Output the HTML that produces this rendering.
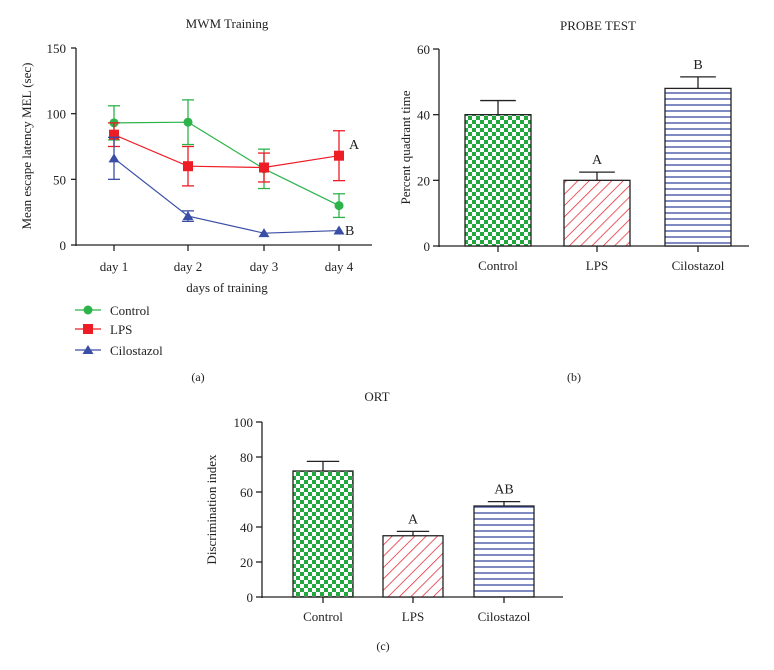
<!DOCTYPE html>
<html><head><meta charset="utf-8"><style>
body{margin:0;background:#fff;}
svg{display:block;font-family:"Liberation Serif",serif;}
</style></head><body>
<svg id="s" width="774" height="670" viewBox="0 0 774 670">
<defs>
<pattern id="chk" width="8" height="8" patternUnits="userSpaceOnUse"><rect width="8" height="8" fill="#fff"/><rect width="4" height="4" fill="#22a83f"/><rect x="4" y="4" width="4" height="4" fill="#22a83f"/></pattern>
<pattern id="diag" width="8" height="8" patternUnits="userSpaceOnUse" patternTransform="rotate(-45)"><rect width="8" height="8" fill="#fff"/><line x1="0" y1="0" x2="8" y2="0" stroke="#e8303c" stroke-width="1.6"/></pattern>
<pattern id="hor" width="6" height="6" patternUnits="userSpaceOnUse"><rect width="6" height="6" fill="#fff"/><line x1="0" y1="3" x2="6" y2="3" stroke="#4858a8" stroke-width="1.4"/></pattern>
</defs>
</svg>
<script>
// Chart a data
const days=["day 1","day 2","day 3","day 4"];
const ctrlMean=[93,93.5,58,30];
const ctrlErr=[13,17,15,9];
const lpsMean=[84,60,59,68];
const lpsErr=[9,15,11,19];
const ciloMean=[66,22,9,11];
const ciloErr=[16,4,0,0];
const aTicks=[0,50,100,150];
// Chart b data
const groups=["Control","LPS","Cilostazol"];
const probeMean=[40,20,48];
const probeErr=[4.3,2.5,3.5];
const probeLetters=["","A","B"];
const bTicks=[0,20,40,60];
// Chart c data
const ortMean=[72,35,52];
const ortErr=[5.5,2.5,2.5];
const ortLetters=["","A","AB"];
const cTicks=[0,20,40,60,80,100];

const S=document.getElementById('s');
const NS='http://www.w3.org/2000/svg';
function mk(tag,at,name,txt){const e=document.createElementNS(NS,tag);for(const k in at)e.setAttribute(k,at[k]);


if(txt!==undefined)e.textContent=txt;S.appendChild(e);return e;}
function line(x1,y1,x2,y2,name,col,w){return mk('line',{x1,y1,x2,y2,stroke:col||'#222','stroke-width':w||1.3},name);}
function text(x,y,t,name,sz,anchor,extra){const a=Object.assign({x,y,'font-size':sz||13,'text-anchor':anchor||'middle',fill:'#222'},extra||{});return mk('text',a,name,t);}

// ---- Chart a ----
const aX0=76,aY0=245,aY1=48,aMax=150;
const ay=v=>aY0-(aY0-aY1)*v/aMax;
const ax=i=>[114,188,264,339][i];
text(227,28,"MWM Training","a-title",13);
line(aX0,aY1,aX0,aY0+1,"a-y-axis");line(aX0,aY0,372,aY0,"a-x-axis");
aTicks.forEach(t=>{line(aX0-5,ay(t),aX0,ay(t),"a-y-tick");text(aX0-10,ay(t)+5,t,"a-y-tick-label",13,"end");});
days.forEach((d,i)=>{line(ax(i),aY0,ax(i),aY0+6,"a-x-tick");text(ax(i),271,d,"a-x-tick-label",13);});
text(227,292,"days of training","a-x-axis-title",13);
text(0,0,"Mean escape latency MEL (sec)","a-y-axis-title",13,"middle",{transform:"translate(31,146) rotate(-90)"});
function series(mean,err,col,shape,name){
  mk('polyline',{points:mean.map((v,i)=>ax(i)+','+ay(v)).join(' '),fill:'none',stroke:col,'stroke-width':1.2},name+'-line');
  mean.forEach((v,i)=>{if(err[i]>0){line(ax(i),ay(v-err[i]),ax(i),ay(v+err[i]),name+'-error',col,1.3);
    line(ax(i)-6,ay(v+err[i]),ax(i)+6,ay(v+err[i]),name+'-error-cap',col,1.3);line(ax(i)-6,ay(v-err[i]),ax(i)+6,ay(v-err[i]),name+'-error-cap',col,1.3);}});
  mean.forEach((v,i)=>marker(ax(i),ay(v),col,shape,name+'-point'));
}
function marker(x,y,col,shape,name){
  if(shape==='c')mk('circle',{cx:x,cy:y,r:4.5,fill:col},name);
  else if(shape==='s')mk('rect',{x:x-5,y:y-5,width:10,height:10,fill:col},name);
  else mk('polygon',{points:`${x},${y-5} ${x-5.5},${y+4} ${x+5.5},${y+4}`,fill:col},name);
}
series(ctrlMean,ctrlErr,'#2db34a','c','control');
series(lpsMean,lpsErr,'#ee1c25','s','lps');
series(ciloMean,ciloErr,'#3a4ea5','t','cilostazol');
text(349,149,"A","a-letter-a",14,"start");
text(345,235,"B","a-letter-b",14,"start");
[["Control",'#2db34a','c',310],["LPS",'#ee1c25','s',329],["Cilostazol",'#3a4ea5','t',350]].forEach(l=>{
  line(75,l[3],101,l[3],"legend-line",l[1],1.2);marker(88,l[3],l[1],l[2],"legend-marker");text(110,l[3]+5,l[0],"legend-label",13,"start");});
text(198,381,"(a)","a-caption",12);

// ---- bar chart helper ----
function bars(o){
  const y=v=>o.y0-(o.y0-o.y1)*v/o.max;
  text(o.tx,o.ty,o.title,o.id+"-title",13);
  line(o.x0,o.y1,o.x0,o.y0+1,o.id+"-y-axis");line(o.x0,o.y0,o.xe,o.y0,o.id+"-x-axis");
  o.ticks.forEach(t=>{line(o.x0-6,y(t),o.x0,y(t),o.id+"-y-tick");text(o.x0-9,y(t)+5,t,o.id+"-y-tick-label",13,"end");});
  const fills=['url(#chk)','url(#diag)','url(#hor)'];
  groups.forEach((g,i)=>{const L=o.bx[i],W=o.bw,c=L+W/2,v=o.mean[i],e=o.err[i];
    line(c,y(v),c,y(v+e),o.id+"-error",'#222',1.3);line(c-W*0.27,y(v+e),c+W*0.27,y(v+e),o.id+"-error-cap",'#222',1.3);
    mk('rect',{x:L,y:y(v),width:W,height:o.y0-y(v),fill:fills[i],stroke:'#222','stroke-width':1.3},o.id+"-bar-"+g.toLowerCase());
    line(c,o.y0,c,o.y0+6,o.id+"-x-tick");
    text(c,o.y0+24,g,o.id+"-x-tick-label",13);
    if(o.letters[i])text(c,y(v+e)-8,o.letters[i],o.id+"-letter",14);
  });
  text(0,0,o.ylab,o.id+"-y-axis-title",13,"middle",{transform:`translate(${o.ylx},${(o.y0+o.y1)/2}) rotate(-90)`});
  text(o.capx,o.capy,o.cap,o.id+"-caption",12);
}
bars({id:"b",title:"PROBE TEST",tx:598,ty:30,x0:439,xe:749,y0:246,y1:49,max:60,ticks:bTicks,bx:[465,564,665],bw:66,mean:probeMean,err:probeErr,letters:probeLetters,ylab:"Percent quadrant time",ylx:410,cap:"(b)",capx:574,capy:381});
bars({id:"c",title:"ORT",tx:377,ty:401,x0:262,xe:563,y0:597,y1:422,max:100,ticks:cTicks,bx:[293,383,474],bw:60,mean:ortMean,err:ortErr,letters:ortLetters,ylab:"Discrimination index",ylx:216,cap:"(c)",capx:383,capy:650});
</script>
</body></html>
